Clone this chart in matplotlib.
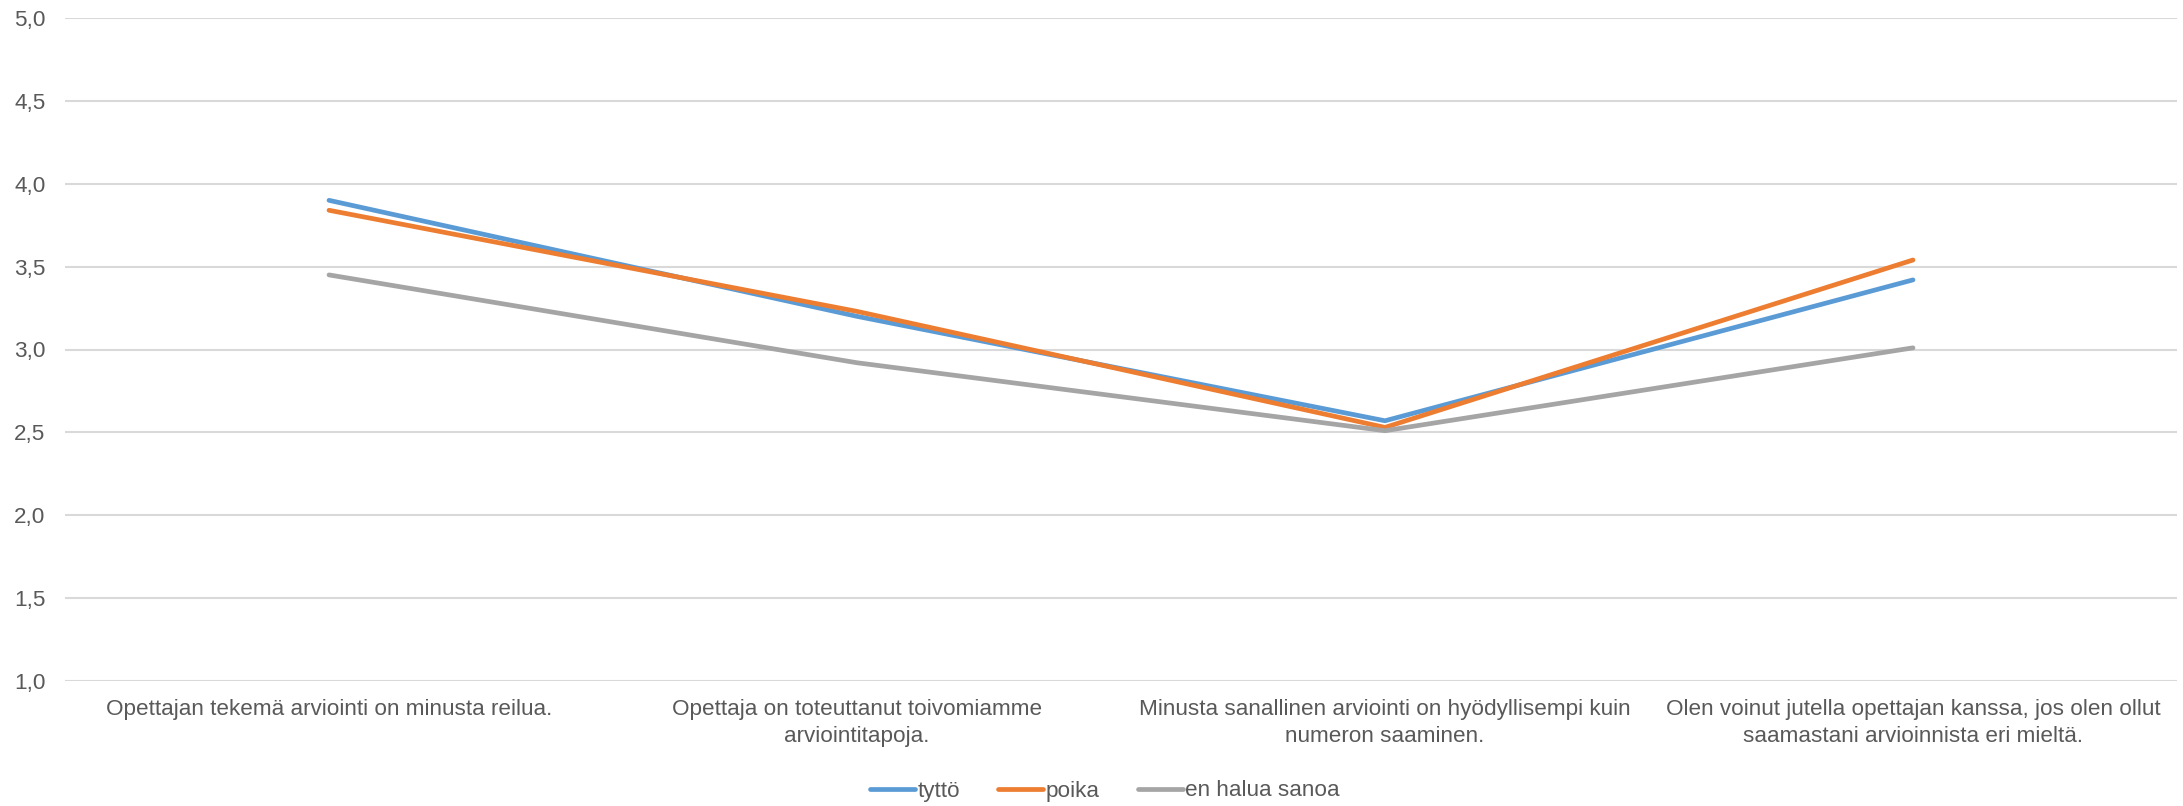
import matplotlib
matplotlib.use("Agg")
import matplotlib.pyplot as plt
from matplotlib import font_manager

categories = [
    "Opettajan tekemä arviointi on minusta reilua.",
    "Opettaja on toteuttanut toivomiamme\narviointitapoja.",
    "Minusta sanallinen arviointi on hyödyllisempi kuin\nnumeron saaminen.",
    "Olen voinut jutella opettajan kanssa, jos olen ollut\nsaamastani arvioinnista eri mieltä.",
]
series_names = ["tyttö", "poika", "en halua sanoa"]
tytto = [3.90, 3.20, 2.57, 3.42]
poika = [3.84, 3.23, 2.53, 3.54]
en_halua = [3.45, 2.92, 2.51, 3.01]
y_ticks = [1.0, 1.5, 2.0, 2.5, 3.0, 3.5, 4.0, 4.5, 5.0]
y_tick_labels = ["1,0", "1,5", "2,0", "2,5", "3,0", "3,5", "4,0", "4,5", "5,0"]

colors = ["#5B9BD5", "#ED7D31", "#A5A5A5"]
text_color = "#595959"

avail = {f.name for f in font_manager.fontManager.ttflist}
fam = [f for f in ["Liberation Sans Narrow", "Liberation Sans", "DejaVu Sans"] if f in avail]
plt.rcParams["font.family"] = fam

fig = plt.figure(figsize=(21.83, 8.06), dpi=100)
ax = fig.add_axes([65/2183, 1-681/806, (2177-65)/2183, (681-18)/806])

x = list(range(len(categories)))
for vals, name, c in zip([tytto, poika, en_halua], series_names, colors):
    ax.plot(x, vals, color=c, lw=3.4, label=name, solid_capstyle="round", solid_joinstyle="round")

ax.set_xlim(-0.5, len(categories) - 0.5)
ax.set_ylim(1.0, 5.0)
ax.set_yticks(y_ticks)
ax.set_yticklabels(y_tick_labels)
ax.set_xticks(x)
ax.set_xticklabels(categories, linespacing=1.4)
ax.grid(axis="y", color="#D9D9D9", lw=1.5)
ax.set_axisbelow(True)
for s in ax.spines.values():
    s.set_visible(False)
ax.tick_params(axis="both", length=0, colors=text_color, labelsize=16.2)
ax.tick_params(axis="y", pad=14)
ax.tick_params(axis="x", pad=13)

leg = fig.legend(loc="center", bbox_to_anchor=(1105/2183, 1-791/806), ncol=3, frameon=False,
                 fontsize=16.2, handlelength=2.0, handletextpad=0.1, columnspacing=1.7)
for t in leg.get_texts():
    t.set_color(text_color)

fig.savefig("out.png", dpi=100, facecolor="white")
